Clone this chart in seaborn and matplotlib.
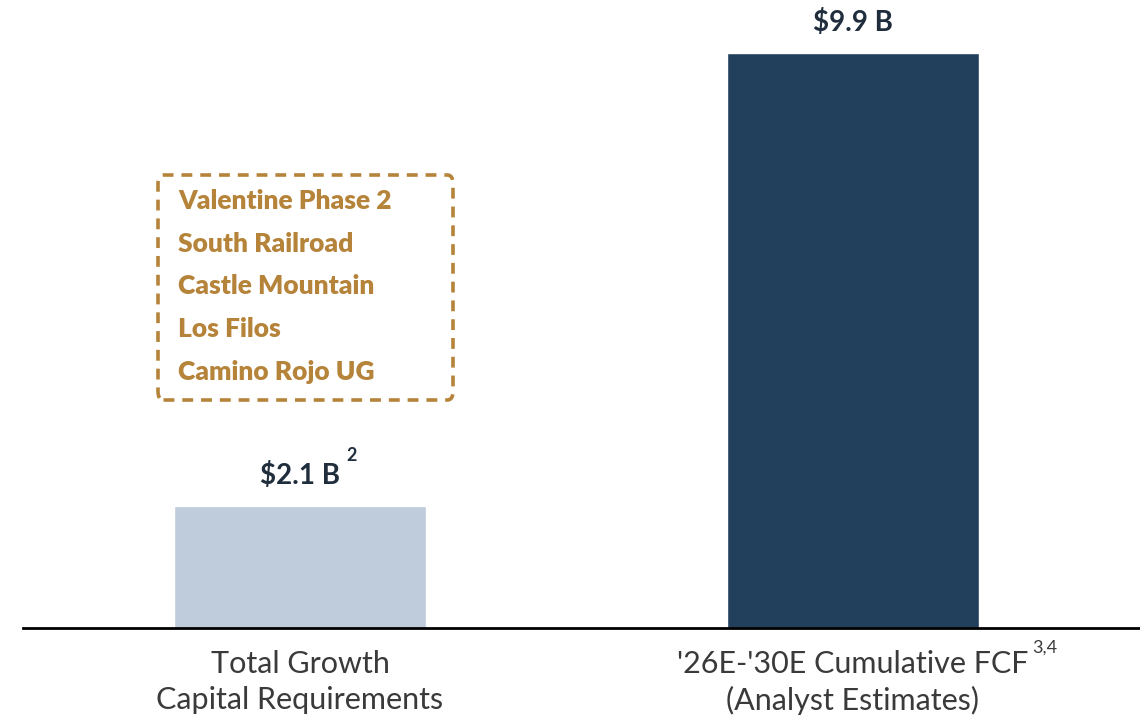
import matplotlib
matplotlib.use("Agg")
import matplotlib.pyplot as plt
import seaborn as sns
from matplotlib.patches import FancyBboxPatch

# ---- data ----
categories = ["Total Growth\nCapital Requirements", "'26E-'30E Cumulative FCF\n(Analyst Estimates)"]
values = [2.1, 9.9]
value_labels = ["$2.1 B", "$9.9 B"]
value_notes = ["2", ""]
category_notes = ["", "3,4"]
bar_colors = ["#BFCCDB", "#223F5C"]
projects = ["Valentine Phase 2", "South Railroad", "Castle Mountain", "Los Filos", "Camino Rojo UG"]

sns.set_theme(style="white")
plt.rcParams["font.family"] = ["Lato", "DejaVu Sans"]

W, H = 1140, 718
fig = plt.figure(figsize=(W / 100, H / 100), dpi=100)
ax = fig.add_axes([23 / W, 1 - 628 / H, 1 - 23 / W, 628 / H])

sns.barplot(x=categories, y=values, hue=categories, palette=bar_colors,
            width=0.456, saturation=1, legend=False, ax=ax)

px_per_unit = 58.1
ax.set_ylim(0, 628 / px_per_unit)
spacing = 553
ax.set_xlim(-(300 - 23) / spacing, 1 + (1140 - 853) / spacing)

for s in ["top", "right", "left"]:
    ax.spines[s].set_visible(False)
ax.spines["bottom"].set_color("black")
ax.spines["bottom"].set_linewidth(2)
ax.set_yticks([])
ax.set_ylabel("")
ax.set_xlabel("")
ax.tick_params(axis="x", length=0, pad=16)
ax.set_xticks(range(len(categories)))
ax.set_xticklabels(categories, fontsize=22, color="#3A3A3A", fontweight="normal",
                   linespacing=1.32)

navy = "#1F2D3D"
for i, (v, lab, note) in enumerate(zip(values, value_labels, value_notes)):
    ax.annotate(lab, xy=(i, v), xytext=(0, 22), textcoords="offset points",
                ha="center", va="center", fontsize=20, fontweight="bold", color=navy)
    if note:
        ax.annotate(note, xy=(i, v), xytext=(37, 36), textcoords="offset points",
                    ha="center", va="center", fontsize=13, fontweight="bold", color=navy)

for i, note in enumerate(category_notes):
    if note:
        ax.annotate(note, xy=(i, 0), xytext=((1045 - 853) * 0.72, -(648 - 628) * 0.72),
                    textcoords="offset points", ha="center", va="center",
                    fontsize=13, fontweight="normal", color="#3A3A3A",
                    annotation_clip=False)

# dashed project box
gold = "#B5843A"
x0 = (158 - 300) / spacing
x1 = (453 - 300) / spacing
y0 = (628 - 400) / px_per_unit
y1 = (628 - 175) / px_per_unit
box = FancyBboxPatch((x0, y0), x1 - x0, y1 - y0,
                     boxstyle="round,pad=0,rounding_size=0.01",
                     fill=False, edgecolor=gold, linewidth=2.6,
                     linestyle=(0, (3, 2.2)), mutation_aspect=15)
ax.add_patch(box)
tx = (178 - 300) / spacing
for k, p in enumerate(projects):
    y_px = 201 + k * 42.7
    ax.text(tx, (628 - y_px) / px_per_unit, p, ha="left", va="center",
            fontsize=19, fontweight="heavy", color=gold)

fig.savefig("out.png", dpi=100, facecolor="white")
